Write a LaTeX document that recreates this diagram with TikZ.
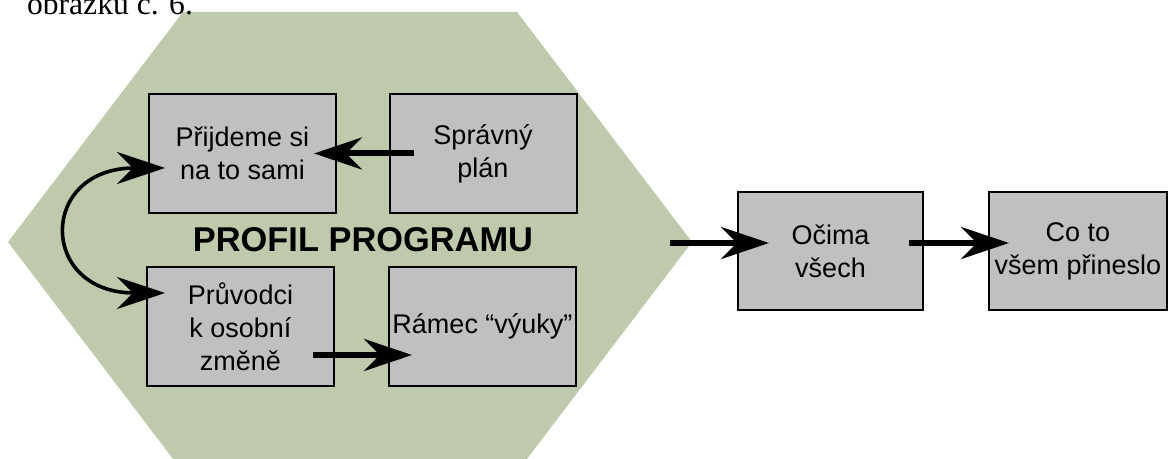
\documentclass[tikz,border=0pt]{standalone}
\usepackage{fontspec}
\setmainfont{Liberation Sans}
\newfontfamily\capfont{Liberation Serif}
\usetikzlibrary{positioning, calc, arrows.meta}
\definecolor{hexgreen}{RGB}{190,202,171}
\definecolor{boxgray}{RGB}{192,192,192}
\tikzset{
        stepbox/.style={
            draw, fill=boxgray, line width=1pt, inner sep=0pt, align=center,
            minimum width=93.5pt, minimum height=59.5pt,
            font=\fontsize{13.5}{16.5}\selectfont
        },
        flow/.style={
            line width=3pt, -{Stealth[length=24pt, width=16pt, inset=8pt]}
        },
        swap/.style={
            line width=1.8pt, {Stealth[length=24pt, width=16pt, inset=8pt]}-{Stealth[length=24pt, width=16pt, inset=8pt]}
        },
}
\begin{document}
\begin{tikzpicture}[x=0.5pt, y=-0.5pt]

        \useasboundingbox (0,0) rectangle (1168,459);

        % HEXAGON (centre of everything)
        \coordinate (HX) at (350,242);
        \fill[hexgreen] ($(HX)+(-342,0)$) -- ($(HX)+(-167,-230)$) -- ($(HX)+(167,-230)$)
                     -- ($(HX)+(342,0)$) -- ($(HX)+(167,230)$) -- ($(HX)+(-167,230)$) -- cycle;

        % DRAW NODES (relative to the hexagon)
        \node[anchor=base west, font=\capfont\fontsize{15.8}{18}\selectfont] (caption) at (20,15) {obrázku č. 6.};
        \node[stepbox]                 (prijdeme) at ($(HX)+(-107.5,-88.5)$) {Přijdeme si\\na to sami};
        \node[stepbox]                 (spravny)  at ($(HX)+(133,-88.5)$)    {Správný\\plán};
        \node[stepbox]                 (pruvodci) at ($(HX)+(-109.5,84.5)$)  {Průvodci\\k osobní\\změně};
        \node[stepbox]                 (ramec)    at ($(HX)+(132.5,84.5)$)   {Rámec “výuky”};
        \node[font=\fontsize{17.2}{20}\selectfont\bfseries] (title) at ($(HX)+(13,-2)$) {PROFIL PROGRAMU};
        \node[stepbox, minimum width=92.5pt, minimum height=59pt] (ocima) at ($(HX)+(480.5,9)$) {Očima\\všech};
        \node[stepbox, minimum width=89pt, minimum height=59pt]   (coto)  at ($(HX)+(728,9)$)   {Co to\\všem přineslo};
        \coordinate (hexout) at ($(HX)+(320,1)$);

        % CONNECT INSIDE THE HEXAGON
        \draw [flow] ($(spravny.west)+(25,0)$) -- ($(prijdeme.east)+(-23,0)$);
        \draw [flow] ($(pruvodci.east)+(-22,28.5)$) -- ($(ramec.west)+(24,28.5)$);
        \draw [swap] ($(prijdeme.west)+(17,14.5)$) to[out=180, in=180, looseness=2.6] ($(pruvodci.west)+(19,-33.5)$);

        % CONNECT OUTPUTS
        \draw [flow] (hexout) -- ($(ocima.west)+(32,-8)$);
        \draw [flow] ($(ocima.east)+(-15,-8)$) -- ($(coto.west)+(21,-8)$);

\end{tikzpicture}
\end{document}
